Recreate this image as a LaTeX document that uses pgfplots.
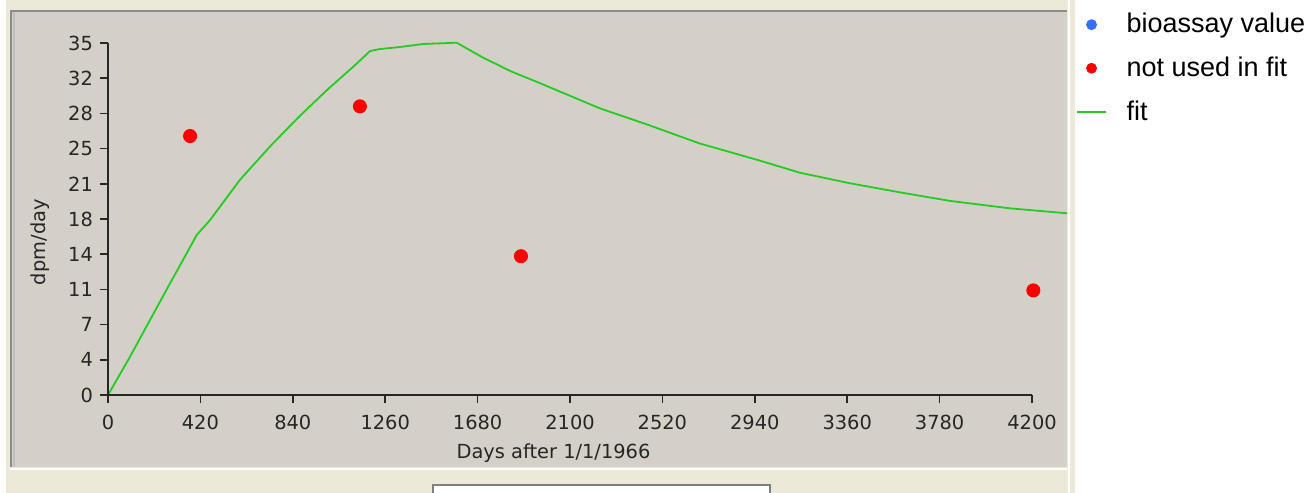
\documentclass[border=0pt]{standalone}
\usepackage{pgfplots}
\pgfplotsset{compat=1.18}
\usepackage{fontspec}
\setmainfont{DejaVu Sans}
\newfontfamily\legfont{Liberation Sans}
\definecolor{panel}{HTML}{D4D0C8}
\definecolor{beige}{HTML}{ECE9D8}
\definecolor{fitgreen}{HTML}{22CC22}
\definecolor{ptblue}{HTML}{3370FF}
\definecolor{ptred}{HTML}{FF0000}
\pgfplotsset{
  legmark/.style={legend image code/.code={\draw[##1,mark size=2.5pt] plot coordinates {(0.3cm,0cm)};}},
  legline/.style={legend image code/.code={\draw[##1] (0.05cm,0cm) -- (0.55cm,0cm);}}
}
\begin{document}
\begin{tikzpicture}
\begin{scope}[x=0.5pt,y=-0.5pt]
\path[use as bounding box] (0,0) rectangle (1314,493);
\fill[white] (0,0) rectangle (1314,493);
\fill[beige] (6,0) rectangle (1075,493);
\fill[panel] (10,10) rectangle (1067,467);
\draw[black!45, line width=1pt] (10,10.5) -- (1067,10.5);
\draw[black!45, line width=1pt] (10.5,10) -- (10.5,467);
\draw[black!25, line width=1pt] (13.5,12) -- (13.5,467);
\draw[white, line width=1pt] (10,468.5) -- (1067,468.5);
\draw[white, line width=1pt] (1069,0) -- (1069,493);
\fill[white] (433,485) rectangle (770,493);
\draw[black!50, line width=0.8pt] (433,493) -- (433,485) -- (770,485) -- (770,493);
\end{scope}
\begin{axis}[
  at={(54pt,-197.5pt)}, anchor=south west,
  scale only axis, width=479.5pt, height=176pt,
  xmin=0, xmax=4359, ymin=0, ymax=35,
  clip=false,
  axis line style={draw=none},
  xtick pos=left, ytick pos=left,
  tick align=outside, major tick length=4pt,
  tick style={black!85, line width=0.8pt},
  xtick={0,420,840,1260,1680,2100,2520,2940,3360,3780,4200},
  ytick={0,3.5,7,10.5,14,17.5,21,24.5,28,31.5,35},
  yticklabels={0,4,7,11,14,18,21,25,28,32,35},
  /pgf/number format/assume math mode=true,
  /pgf/number format/set thousands separator={},
  ticklabel style={font=\fontsize{9.7}{11}\selectfont, text=black!85},
  xticklabel style={yshift=-2.5pt},
  legend style={at={(1,1)}, anchor=north west, xshift=4.5pt, yshift=17pt,
    draw=none, fill=none, inner sep=0pt,
    font=\legfont\fontsize{13.5}{15}\selectfont, row sep=6.5pt,
    cells={anchor=west},
    /tikz/every odd column/.append style={column sep=8pt}},
]
\addlegendimage{only marks, mark=*, mark size=2.5pt, ptblue, mark options={draw=ptblue, fill=ptblue}, legmark}
\addlegendentry{bioassay value}
\addplot[only marks, mark=*, mark size=3.3pt, ptred, mark options={draw=ptred, fill=ptred}, legmark] coordinates {
  (373,25.75) (1145,28.7) (1877,13.8) (4206,10.4)
};
\addlegendentry{not used in fit}
\addplot[fitgreen, line width=0.9pt, legline] coordinates {
  (0,0) (100,3.8) (191,7.46) (282,11.1) (358,14.1) (403,15.9) (464,17.4)
  (600,21.4) (736,24.7) (865,27.6) (994,30.3) (1123,32.8) (1191,34.2)
  (1236,34.4) (1327,34.6) (1432,34.9) (1585,35.03)
  (1700,33.6) (1830,32.2) (1964,31.0) (2236,28.5) (2450,26.9) (2691,25.0) (2964,23.3)
  (3145,22.1) (3373,21.05) (3600,20.15) (3827,19.3) (4100,18.56) (4359,18.07)
};
\addlegendentry{fit}
\draw[black!85, line width=1pt] (axis cs:0,35) -- (axis cs:0,0) -- (axis cs:4200,0);
\node[font=\fontsize{9.7}{11}\selectfont, text=black!85] at (axis cs:2025,-5.75) {Days after 1/1/1966};
\node[font=\fontsize{9.7}{11}\selectfont, text=black!85, rotate=90] at (axis cs:-308,15.2) {dpm/day};
\end{axis}
\end{tikzpicture}
\end{document}
